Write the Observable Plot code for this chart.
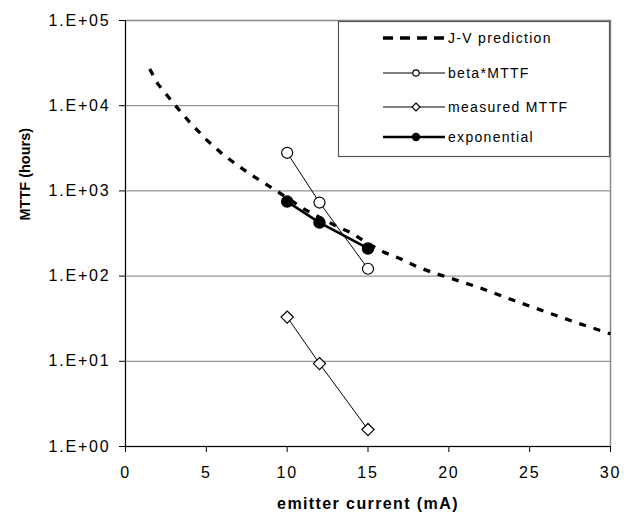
<!DOCTYPE html>
<html>
<head>
<meta charset="utf-8">
<script src="https://cdn.jsdelivr.net/npm/d3@7"></script>
<script src="https://cdn.jsdelivr.net/npm/@observablehq/plot@0.6"></script>
<style>
  html, body { margin: 0; padding: 0; background: #fff; }
  #wrap { position: relative; width: 631px; height: 520px; font-family: Arial, "Liberation Sans", sans-serif; }
  #legend { position: absolute; left: 0; top: 0; }
</style>
</head>
<body>
<div id="wrap"></div>
<script>
// ---- data ----
const jvCurrent = [1.5, 2, 3, 4, 5, 6, 7, 8, 9, 10, 11, 12, 13, 14, 15, 16, 17, 18, 19, 20, 22, 24, 26, 28, 30];
const jvMTTF    = [27000, 18000, 10500, 6300, 4000, 2700, 1950, 1450, 1100, 830, 620, 490, 390, 320, 240, 190, 160, 130, 110, 96, 72, 52, 38, 28, 21];

const measCurrent = [10, 12, 15];
const betaMTTF     = [2800, 730, 122];
const measuredMTTF = [33, 9.4, 1.58];
const expMTTF      = [750, 425, 211];

const yTicks = [1, 10, 100, 1000, 10000, 100000];
const xTicks = [0, 5, 10, 15, 20, 25, 30];
const gridValues = [10, 100, 1000, 10000];

const seriesNames = ["J-V prediction", "beta*MTTF", "measured MTTF", "exponential"];
const xTitle = "emitter current (mA)";
const yTitle = "MTTF (hours)";

// ---- tables ----
const jv = jvCurrent.map((x, i) => ({x, y: jvMTTF[i]}));
const beta = measCurrent.map((x, i) => ({x, y: betaMTTF[i]}));
const meas = measCurrent.map((x, i) => ({x, y: measuredMTTF[i]}));
const expo = measCurrent.map((x, i) => ({x, y: expMTTF[i]}));

const fmt = d => "1.E+" + String(Math.round(Math.log10(d))).padStart(2, "0");

const chart = Plot.plot({
  width: 631,
  height: 520,
  marginLeft: 125,
  marginRight: 21,
  marginTop: 20,
  marginBottom: 74,
  style: {fontFamily: "Arial, 'Liberation Sans', sans-serif", fontSize: "16px", color: "#000", background: "#fff"},
  x: {domain: [0, 30], axis: null},
  y: {type: "log", domain: [1, 100000], axis: null},
  marks: [
    Plot.ruleY(gridValues, {stroke: "#7a7a7a", strokeWidth: 1}),
    Plot.frame({stroke: "#8a8a8a", strokeWidth: 1.5}),
    Plot.ruleX([0], {stroke: "#000", strokeWidth: 1}),
    Plot.ruleY([1], {stroke: "#000", strokeWidth: 1}),
    Plot.axisY(yTicks, {anchor: "left", tickFormat: fmt, tickSize: 6, tickPadding: 9, stroke: "#000", fill: "#000", fontSize: 16, label: null}),
    Plot.axisX(xTicks, {anchor: "bottom", tickSize: 6, tickPadding: 14, stroke: "#000", fill: "#000", fontSize: 16, label: null}),
    Plot.line(jv, {x: "x", y: "y", stroke: "#000", strokeWidth: 3.3, strokeDasharray: "7,8", strokeLinecap: "butt", strokeLinejoin: "miter", curve: "linear"}),
    Plot.line(beta, {x: "x", y: "y", stroke: "#000", strokeWidth: 1}),
    Plot.line(meas, {x: "x", y: "y", stroke: "#000", strokeWidth: 1}),
    Plot.line(expo, {x: "x", y: "y", stroke: "#000", strokeWidth: 2.6}),
    Plot.dot(beta, {x: "x", y: "y", r: 5.5, fill: "#fff", stroke: "#000", strokeWidth: 1.2}),
    Plot.dot(meas, {x: "x", y: "y", r: 5.5, symbol: "diamond2", fill: "#fff", stroke: "#000", strokeWidth: 1.2}),
    Plot.dot(expo, {x: "x", y: "y", r: 5.5, fill: "#000", stroke: "#000"}),
    Plot.text([xTitle], {frameAnchor: "bottom", dy: 62, lineAnchor: "bottom", text: d => d, fontWeight: "bold", fontSize: 16, fill: "#000"}),
    Plot.text([yTitle], {frameAnchor: "left", dx: -100, dy: -13, rotate: -90, text: d => d, fontWeight: "bold", fontSize: 14.5, fill: "#000"})
  ]
});

const wrap = document.getElementById("wrap");
wrap.appendChild(chart);

// widen tick text a bit to match the reference's horizontal stretch
d3.select(chart).selectAll('g[aria-label="y-axis tick label"] text, g[aria-label="x-axis tick label"] text')
  .style("letter-spacing", "1.8px");
d3.select(chart).selectAll('g[aria-label="text"] text')
  .filter(function () { return this.textContent === xTitle; })
  .style("letter-spacing", "1.4px");

// ---- legend (overlay) ----
const leg = d3.select(wrap).append("svg")
  .attr("id", "legend")
  .attr("width", 631).attr("height", 520)
  .style("pointer-events", "none");

const box = {x0: 338, y0: 21, x1: 610, y1: 157};
leg.append("rect")
  .attr("x", box.x0 + 0.5).attr("y", box.y0 + 0.5)
  .attr("width", box.x1 - box.x0 - 1).attr("height", box.y1 - box.y0 - 1)
  .attr("fill", "#fff").attr("stroke", "#555").attr("stroke-width", 1.2);

const rowsY = [38, 73, 107, 137];
const lineX0 = 383, lineX1 = 445, markX = 416, textX = 448;
const styles = [
  {w: 3.5, dash: "10,7", mark: null},
  {w: 1, dash: null, mark: "circle"},
  {w: 1, dash: null, mark: "diamond"},
  {w: 2.6, dash: null, mark: "filled"}
];
seriesNames.forEach((name, i) => {
  const y = rowsY[i], s = styles[i];
  const ln = leg.append("line")
    .attr("x1", lineX0).attr("x2", lineX1).attr("y1", y).attr("y2", y)
    .attr("stroke", "#000").attr("stroke-width", s.w);
  if (s.dash) ln.attr("stroke-dasharray", s.dash);
  if (s.mark === "circle") {
    leg.append("circle").attr("cx", markX).attr("cy", y).attr("r", 3.2)
      .attr("fill", "#fff").attr("stroke", "#000").attr("stroke-width", 1.2);
  } else if (s.mark === "diamond") {
    leg.append("path").attr("d", `M${markX},${y-4}L${markX+4},${y}L${markX},${y+4}L${markX-4},${y}Z`)
      .attr("fill", "#fff").attr("stroke", "#000").attr("stroke-width", 1.2);
  } else if (s.mark === "filled") {
    leg.append("circle").attr("cx", markX).attr("cy", y).attr("r", 4.2).attr("fill", "#000");
  }
  leg.append("text").attr("x", textX).attr("y", y).attr("dy", "0.35em")
    .attr("font-family", "Arial, 'Liberation Sans', sans-serif")
    .attr("font-size", 14).style("letter-spacing", "1.3px")
    .attr("fill", "#000").text(name);
});
</script>
</body>
</html>
